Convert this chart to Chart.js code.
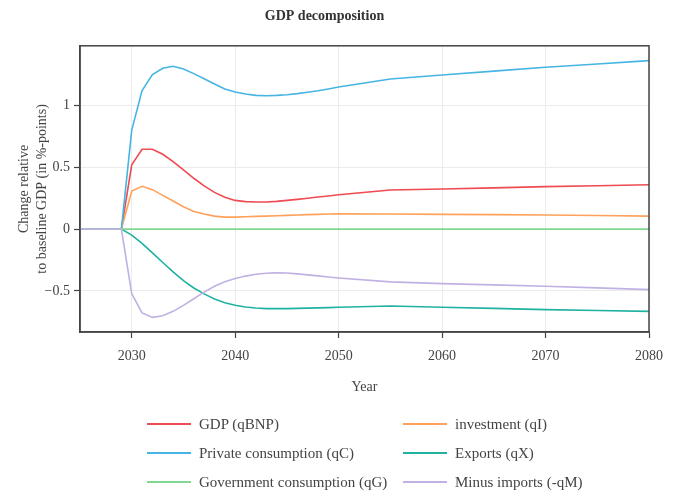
<!DOCTYPE html>
<html>
<head>
<meta charset="utf-8">
<script src="https://cdn.jsdelivr.net/npm/chart.js@4.4.1/dist/chart.umd.min.js"></script>
<style>
  html, body { margin: 0; padding: 0; background: #fff; }
  #wrap { position: relative; width: 680px; height: 498px; }
  #legend { position: absolute; left: 0; top: 0; width: 680px; height: 498px; pointer-events: none;
            font-family: "Liberation Serif", "Times New Roman", serif; font-size: 15px; color: #444; }
  .item { position: absolute; height: 20px; display: flex; align-items: center; white-space: nowrap; }
  .swatch { width: 44px; height: 2px; margin-right: 8px; }
</style>
</head>
<body>
<div id="wrap">
  <canvas id="c" width="680" height="498"></canvas>
  <div id="legend"></div>
</div>
<script>
// Years: annual through 2050, then every five years
const years = [2025, 2026, 2027, 2028, 2029, 2030, 2031, 2032, 2033, 2034, 2035, 2036, 2037, 2038, 2039,
               2040, 2041, 2042, 2043, 2044, 2045, 2046, 2047, 2048, 2049, 2050,
               2055, 2060, 2065, 2070, 2075, 2080];

const gdp = [0, 0, 0, 0, 0, 0.519, 0.646, 0.646, 0.605, 0.546, 0.478, 0.411, 0.349, 0.297, 0.257,
             0.232, 0.222, 0.219, 0.219, 0.224, 0.232, 0.240, 0.249, 0.259, 0.268, 0.278,
             0.316, 0.324, 0.333, 0.343, 0.351, 0.359];
const investment = [0, 0, 0, 0, 0, 0.308, 0.346, 0.319, 0.273, 0.227, 0.181, 0.143, 0.122, 0.105, 0.097,
                    0.097, 0.100, 0.103, 0.105, 0.108, 0.111, 0.114, 0.117, 0.119, 0.122, 0.124,
                    0.122, 0.119, 0.117, 0.114, 0.110, 0.105];
const privateConsumption = [0, 0, 0, 0, 0, 0.80, 1.12, 1.25, 1.30, 1.316, 1.295, 1.257, 1.216, 1.173, 1.132,
                            1.108, 1.092, 1.081, 1.078, 1.081, 1.086, 1.095, 1.106, 1.118, 1.133, 1.149,
                            1.214, 1.246, 1.277, 1.308, 1.335, 1.362];
const exportsQ = [0, 0, 0, 0, 0, -0.049, -0.116, -0.192, -0.270, -0.346, -0.416, -0.476, -0.524, -0.565, -0.595,
                  -0.616, -0.630, -0.638, -0.643, -0.643, -0.643, -0.641, -0.639, -0.637, -0.635, -0.632,
                  -0.622, -0.632, -0.641, -0.651, -0.658, -0.665];
const government = [0, 0, 0, 0, 0, 0, 0, 0, 0, 0, 0, 0, 0, 0, 0,
                    0, 0, 0, 0, 0, 0, 0, 0, 0, 0, 0,
                    0, 0, 0, 0, 0, 0];
const minusImports = [0, 0, 0, 0, 0, -0.522, -0.678, -0.714, -0.700, -0.665, -0.617, -0.563, -0.510, -0.462, -0.425,
                      -0.400, -0.380, -0.365, -0.357, -0.354, -0.355, -0.362, -0.370, -0.378, -0.387, -0.395,
                      -0.427, -0.441, -0.451, -0.462, -0.475, -0.489];

const seriesNames = ['GDP (qBNP)', 'investment (qI)', 'Private consumption (qC)', 'Exports (qX)',
                     'Government consumption (qG)', 'Minus imports (-qM)'];
const seriesValues = [gdp, investment, privateConsumption, exportsQ, government, minusImports];
const seriesColors = ['#ee4b52', '#ffa15a', '#46b5e3', '#1fb2a2', '#80d890', '#bfb1e3'];

const xTicks = [2030, 2040, 2050, 2060, 2070, 2080];
const yTicks = [-0.5, 0, 0.5, 1];

const SERIF = '"Liberation Serif", "Times New Roman", serif';

// Full box around the plotting area
const frame = {
  id: 'frame',
  afterDatasetsDraw(chart) {
    const { ctx, chartArea: a } = chart;
    ctx.save();
    ctx.strokeStyle = '#444';
    ctx.lineWidth = 1.5;
    ctx.strokeRect(a.left, a.top, a.right - a.left, a.bottom - a.top);
    ctx.restore();
  }
};

new Chart(document.getElementById('c'), {
  type: 'line',
  data: {
    datasets: seriesNames.map((name, i) => ({
      label: name,
      data: years.map((yr, j) => ({ x: yr, y: seriesValues[i][j] })),
      borderColor: seriesColors[i],
      backgroundColor: seriesColors[i],
      borderWidth: 1.6,
      pointRadius: 0,
      tension: 0,
      fill: false,
      order: seriesNames.length - i
    }))
  },
  options: {
    responsive: false,
    animation: false,
    devicePixelRatio: 1,
    layout: { padding: { left: 0, right: 31, top: 0, bottom: 96 } },
    plugins: {
      legend: { display: false },
      tooltip: { enabled: false },
      title: {
        display: true,
        text: 'GDP decomposition',
        color: '#333',
        font: { family: SERIF, size: 14, weight: 'bold' },
        padding: { top: 8, bottom: 21 }
      }
    },
    scales: {
      x: {
        type: 'linear',
        min: 2025,
        max: 2080,
        afterBuildTicks: s => { s.ticks = xTicks.map(v => ({ value: v })); },
        afterFit: s => { s.height = 70; },
        grid: { color: '#ebebeb', lineWidth: 1, tickColor: '#444', tickLength: 6, tickWidth: 1.2 },
        border: { display: true, color: '#444', width: 1.5 },
        ticks: { color: '#444', font: { family: SERIF, size: 14 }, padding: 10, maxRotation: 0,
                 callback: v => String(v) },
        title: { display: true, text: 'Year', color: '#444', font: { family: SERIF, size: 14 },
                 padding: { top: 0, bottom: 6 } }
      },
      y: {
        type: 'linear',
        min: -0.832,
        max: 1.482,
        afterBuildTicks: s => { s.ticks = yTicks.map(v => ({ value: v })); },
        afterFit: s => { s.width = 80; },
        grid: { color: '#ebebeb', lineWidth: 1, tickColor: '#444', tickLength: 6, tickWidth: 1.2 },
        border: { display: true, color: '#444', width: 1.5 },
        ticks: { color: '#444', font: { family: SERIF, size: 14 }, padding: 4,
                 callback: v => (v < 0 ? '\u2212' + String(Math.abs(v)) : String(v)) },
        title: { display: true, text: ['Change relative', 'to baseline GDP (in %-points)'], color: '#444',
                 font: { family: SERIF, size: 14, lineHeight: 18 / 14 },
                 padding: { top: 15, bottom: 0 } }
      }
    }
  },
  plugins: [frame]
});

// Two-column legend below the plot
const legendRows = [424, 453, 482];
const legendCols = [147, 403];
const legendEl = document.getElementById('legend');
seriesNames.forEach((name, i) => {
  const item = document.createElement('div');
  item.className = 'item';
  item.style.left = legendCols[i % 2] + 'px';
  item.style.top = (legendRows[Math.floor(i / 2)] - 10) + 'px';
  const sw = document.createElement('span');
  sw.className = 'swatch';
  sw.style.background = seriesColors[i];
  const txt = document.createElement('span');
  txt.textContent = name;
  item.appendChild(sw);
  item.appendChild(txt);
  legendEl.appendChild(item);
});
</script>
</body>
</html>
